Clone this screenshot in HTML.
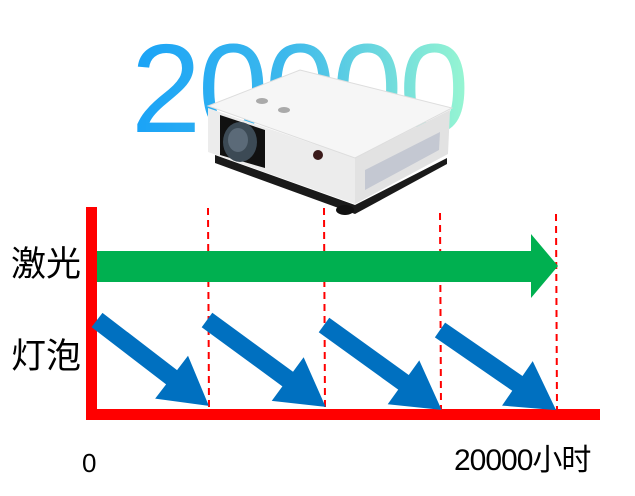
<!DOCTYPE html>
<html><head><meta charset="utf-8"><style>
html,body{margin:0;padding:0;background:#fff;width:635px;height:496px;overflow:hidden}
</style></head><body>
<svg width="635" height="496" viewBox="0 0 635 496" xmlns="http://www.w3.org/2000/svg">
<defs>
<linearGradient id="g" x1="135" y1="0" x2="465" y2="0" gradientUnits="userSpaceOnUse">
<stop offset="0" stop-color="#1aa3f7"/><stop offset="0.45" stop-color="#3cb8ec"/><stop offset="1" stop-color="#96f5d2"/>
</linearGradient>
</defs>
<text x="131" y="132" font-family="Liberation Sans, sans-serif" font-size="126" letter-spacing="-3" fill="url(#g)">20000</text>
<!-- projector -->
<polygon points="215,155 355,205 447,158 447,164 355,214 215,163" fill="#1a1a1a"/>
<ellipse cx="345" cy="210" rx="9" ry="5" fill="#111"/>
<polygon points="208,108 355,158 355,204 208,152" fill="#ececec"/>
<polygon points="355,158 450,110 448,154 355,204" fill="#e2e2e2"/>
<polygon points="365,170 440,132 439,150 365,190" fill="#c4c8d2"/>
<polygon points="208,106 300,70 452,108 355,158" fill="#f6f6f6" stroke="#ddd" stroke-width="1"/>
<polygon points="220,115 265,130 265,168 220,155" fill="#111"/>
<ellipse cx="240" cy="142" rx="17" ry="20" fill="#3c4a55"/>
<ellipse cx="238" cy="140" rx="10" ry="12" fill="#5b6a78"/>
<circle cx="318" cy="155" r="5" fill="#3a1a1a"/>
<ellipse cx="262" cy="101" rx="6" ry="3" fill="#aaa"/>
<ellipse cx="284" cy="110" rx="6" ry="3" fill="#aaa"/>
<!-- axes -->
<rect x="86" y="207" width="11" height="213" fill="#ff0000"/>
<rect x="86" y="409" width="514" height="11" fill="#ff0000"/>
<g stroke="#ff0000" stroke-width="2" stroke-dasharray="7,5">
<line x1="208" y1="208" x2="209" y2="410"/>
<line x1="324" y1="208" x2="325" y2="410"/>
<line x1="440" y1="213" x2="441" y2="410"/>
<line x1="556" y1="214" x2="557" y2="410"/>
</g>
<!-- green arrow -->
<polygon points="97,251 531,251 531,234 558,266 531,298 531,282 97,282" fill="#00b050"/>
<!-- blue arrows -->
<g fill="#0070c0">
<polygon transform="translate(97,320) rotate(37.5)" points="0,-9 94,-9 94,-27 141,0 94,27 94,9 0,9"/>
<polygon transform="translate(207,320) rotate(36.2)" points="0,-9 100,-9 100,-27 147,0 100,27 100,9 0,9"/>
<polygon transform="translate(324,325) rotate(35.8)" points="0,-9 98,-9 98,-27 145,0 98,27 98,9 0,9"/>
<polygon transform="translate(440,330) rotate(34.6)" points="0,-9 94,-9 94,-27 141,0 94,27 94,9 0,9"/>
</g>
<g font-family="Liberation Sans, Noto Sans CJK SC, sans-serif" fill="#000">
<text x="11" y="276" font-size="35">激光</text>
<text x="11" y="368" font-size="35">灯泡</text>
<text x="82" y="472" font-size="26">0</text>
<text x="454" y="470" font-size="30" letter-spacing="-1">20000小时</text>
</g>
</svg>
</body></html>
